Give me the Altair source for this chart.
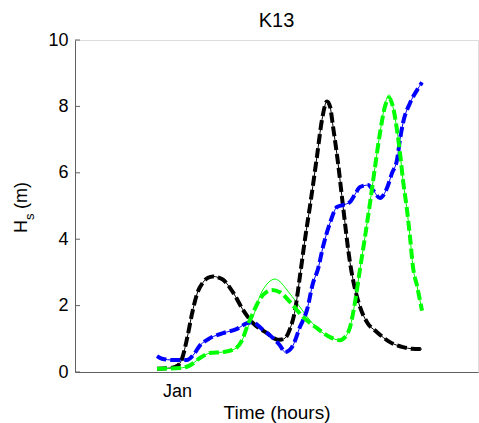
import altair as alt
import pandas as pd

# Time axis: hours relative to the "Jan" tick
black_h = [157, 170, 178, 182, 187, 192, 197, 203, 208, 213, 218, 223, 233, 243, 253, 267, 275, 280, 285, 290, 295, 300, 305, 310, 317, 322, 327, 330, 333, 338, 343, 350, 355, 360, 367, 377, 390, 403, 412, 422]
black_v = [0.1, 0.12, 0.2, 0.4, 1.0, 1.75, 2.35, 2.7, 2.84, 2.88, 2.85, 2.78, 2.4, 1.87, 1.47, 1.17, 1.0, 0.97, 1.02, 1.3, 1.85, 2.9, 4.0, 5.0, 6.5, 7.6, 8.15, 8.0, 7.4, 6.3, 5.0, 3.3, 2.5, 1.96, 1.5, 1.2, 0.9, 0.75, 0.7, 0.69]

blue_h = [157, 162, 173, 187, 193, 200, 210, 223, 237, 247, 252, 263, 273, 280, 285, 292, 300, 307, 313, 318, 323, 330, 337, 343, 350, 355, 360, 368, 373, 380, 387, 392, 397, 400, 403, 410, 417, 422]
blue_v = [0.48, 0.4, 0.36, 0.36, 0.5, 0.8, 1.02, 1.17, 1.3, 1.47, 1.5, 1.27, 1.02, 0.8, 0.6, 0.75, 1.36, 1.87, 2.68, 3.1, 3.77, 4.49, 4.97, 5.03, 5.12, 5.35, 5.57, 5.63, 5.48, 5.24, 5.54, 5.99, 6.39, 7.0, 7.5, 8.1, 8.49, 8.72]

green_h = [157, 180, 190, 200, 210, 223, 235, 242, 247, 253, 260, 267, 272, 280, 290, 303, 317, 330, 340, 345, 350, 355, 360, 365, 370, 375, 380, 385, 389, 393, 397, 400, 403, 407, 410, 413, 417, 422]
green_v = [0.1, 0.12, 0.2, 0.42, 0.57, 0.6, 0.7, 0.95, 1.36, 1.78, 2.2, 2.42, 2.47, 2.4, 2.11, 1.66, 1.32, 1.05, 0.96, 1.05, 1.35, 2.1, 3.1, 4.07, 5.09, 6.17, 7.2, 8.0, 8.25, 7.98, 7.29, 6.6, 5.78, 4.88, 4.07, 3.16, 2.6, 1.85]

green_thin_h = [157, 180, 190, 200, 210, 223, 235, 242, 247, 253, 260, 267, 275, 280, 287, 297, 308, 317, 330, 340, 345, 350, 355, 360, 365, 370, 375, 380, 385, 389, 393, 397, 400, 403, 407, 410, 413, 417, 422]
green_thin_v = [0.1, 0.12, 0.2, 0.42, 0.57, 0.6, 0.7, 0.95, 1.3, 1.65, 2.3, 2.65, 2.8, 2.72, 2.47, 2.08, 1.63, 1.32, 1.05, 0.96, 1.05, 1.35, 2.1, 3.1, 4.07, 5.09, 6.17, 7.2, 8.05, 8.35, 7.98, 7.29, 6.6, 5.78, 4.88, 4.07, 3.16, 2.6, 1.85]

y_ticks = [0, 2, 4, 6, 8, 10]
X0 = 177  # pixel-equivalent origin of the "Jan" tick

rows = []
def add(name, style, hs, vs):
    for i, (h, v) in enumerate(zip(hs, vs)):
        rows.append({"series": name, "style": style, "i": i, "t": h - X0, "hs": v})

add("black", "thin", black_h, black_v)
add("blue", "thin", blue_h, blue_v)
add("green", "thin", green_thin_h, green_thin_v)
add("black", "dash", black_h, black_v)
add("blue", "dash", blue_h, blue_v)
add("green", "dash", green_h, green_v)
df = pd.DataFrame(rows)

FONT = "Liberation Sans"
xscale = alt.Scale(domain=[75 - X0, 478 - X0], nice=False, zero=False)
yscale = alt.Scale(domain=[0, 10], nice=False)
cscale = alt.Scale(domain=["black", "blue", "green"], range=["#000000", "#0000ff", "#00ff00"])

xaxis = alt.Axis(
    values=[0], labelExpr="'Jan'", ticks=False, tickSize=0, labelPadding=10,
    labelFont=FONT, labelFontSize=18, labelColor="black",
    title="Time (hours)", titleFontSize=19, titleFontWeight="normal", titleFont=FONT,
    titlePadding=3, titleColor="black", grid=False, domainColor="#606060")
yaxis = alt.Axis(
    values=y_ticks, ticks=False, tickSize=0, labelPadding=7, title=None, grid=False,
    labelFont=FONT, labelFontSize=18, labelColor="black", domainColor="#606060")

base = alt.Chart(df)
thin = base.transform_filter(alt.datum.style == "thin").mark_line(
    strokeWidth=1, interpolate="monotone").encode(
    x=alt.X("t:Q", scale=xscale, axis=xaxis), y=alt.Y("hs:Q", scale=yscale, axis=yaxis),
    color=alt.Color("series:N", scale=cscale, legend=None),
    detail="series:N", order="i:Q")
dash = base.transform_filter(alt.datum.style == "dash").mark_line(
    strokeWidth=4, strokeDash=[10, 4], interpolate="monotone").encode(
    x=alt.X("t:Q", scale=xscale, axis=xaxis), y=alt.Y("hs:Q", scale=yscale, axis=yaxis),
    color=alt.Color("series:N", scale=cscale, legend=None),
    detail="series:N", order="i:Q")

tick_df = pd.DataFrame({"v": y_ticks})
ticks = alt.Chart(tick_df).mark_rule(color="#606060", strokeWidth=1).encode(
    y=alt.Y("v:Q", scale=yscale, axis=yaxis), x=alt.value(0), x2=alt.value(5))

lab_df = pd.DataFrame({"a": ["H"], "b": ["s"], "c": ["(m)"]})
tH = alt.Chart(lab_df).mark_text(angle=270, align="left", baseline="alphabetic",
    font=FONT, fontSize=18, color="black").encode(text="a:N", x=alt.value(-48), y=alt.value(193))
tS = alt.Chart(lab_df).mark_text(angle=270, align="left", baseline="alphabetic",
    font=FONT, fontSize=13, color="black").encode(text="b:N", x=alt.value(-41), y=alt.value(180))
tM = alt.Chart(lab_df).mark_text(angle=270, align="left", baseline="alphabetic",
    font=FONT, fontSize=18, color="black").encode(text="c:N", x=alt.value(-48), y=alt.value(169))

chart = alt.layer(thin, dash, ticks, tH, tS, tM).properties(
    width=403, height=332,
    title=alt.TitleParams("K13", fontSize=20, fontWeight="normal", font=FONT, color="black", offset=0),
    padding={"left": 75, "top": 40, "right": 1, "bottom": 51},
    autosize=alt.AutoSizeParams(type="none"),
).configure_view(stroke=None).configure(background="white")

chart.save("out.html", embed_options={"renderer": "svg", "actions": False})
